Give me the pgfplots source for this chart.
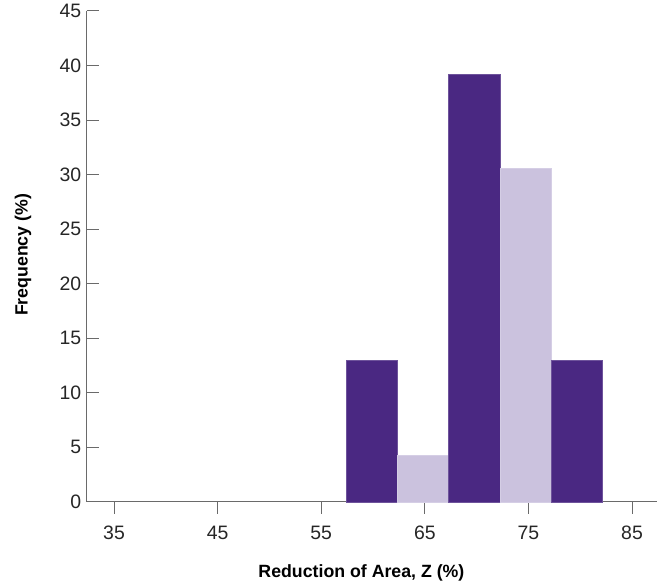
\documentclass[border=0pt]{standalone}
\usepackage{pgfplots}
\pgfplotsset{compat=1.18}
\usepackage{fontspec}
\setmainfont{Liberation Sans}
\definecolor{darkp}{HTML}{4A2882}
\definecolor{lightp}{HTML}{CBC2DE}
\definecolor{axgray}{HTML}{6A6A6A}
\begin{document}
\begin{tikzpicture}
\path[use as bounding box] (-86.7bp,-85.3bp) rectangle (579.3bp,501.7bp);
\begin{axis}[
  scale only axis,
  width=570bp, height=490.7bp,
  xmin=32.36, xmax=87.38,
  ymin=0, ymax=45,
  axis x line=bottom, axis y line=left,
  axis line style={draw=axgray, line width=1.1pt, -},
  xtick={35,45,55,65,75,85},
  ytick={0,5,...,45},
  tick align=inside,
  major tick length=12bp,
  tick style={draw=axgray, line width=1pt},
  x tick style={yshift=-12bp},
  /pgf/number format/assume math mode=true,
  ticklabel style={font=\fontsize{19.5}{22}\selectfont, text=black!85},
  xticklabel style={yshift=-21bp},
  yticklabel style={xshift=-2bp},
  xlabel={Reduction of Area, Z (\%)},
  ylabel={Frequency (\%)},
  label style={font=\fontsize{17.8}{20}\selectfont\bfseries},
  xlabel style={at={(axis description cs:0.482,0)}, anchor=base, yshift=-76bp},
  ylabel style={at={(axis description cs:0,0.503)}, anchor=base, yshift=59bp},
  clip=false,
]
\addplot[ybar interval, fill=darkp, draw=darkp!80!white, line width=0.4pt] coordinates {(57.4,13.0) (62.35,13.0)};
\addplot[ybar interval, fill=lightp, draw=lightp!80!white, line width=0.4pt] coordinates {(62.35,4.3) (67.3,4.3)};
\addplot[ybar interval, fill=darkp, draw=darkp!80!white, line width=0.4pt] coordinates {(67.3,39.2) (72.25,39.2)};
\addplot[ybar interval, fill=lightp, draw=lightp!80!white, line width=0.4pt] coordinates {(72.25,30.6) (77.15,30.6)};
\addplot[ybar interval, fill=darkp, draw=darkp!80!white, line width=0.4pt] coordinates {(77.15,13.0) (82.1,13.0)};
\end{axis}
\end{tikzpicture}
\end{document}
